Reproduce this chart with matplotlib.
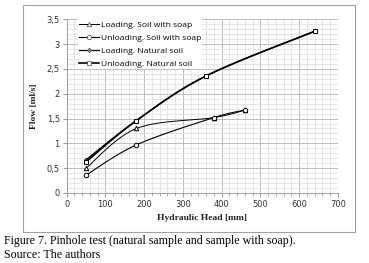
import numpy as np
import matplotlib.pyplot as plt
from matplotlib.patches import Rectangle
from matplotlib.ticker import MultipleLocator, FuncFormatter

# data
head_soap_load = [50, 180, 380, 460]
flow_soap_load = [0.50, 1.30, 1.52, 1.67]
head_soap_unload = [460, 380, 180, 50]
flow_soap_unload = [1.67, 1.52, 0.97, 0.36]
head_nat_load = [50, 180, 360, 640]
flow_nat_load = [0.67, 1.46, 2.36, 3.26]
head_nat_unload = [640, 360, 180, 50]
flow_nat_unload = [3.26, 2.36, 1.46, 0.63]

labels = ["Loading. Soil with soap", "Unloading. Soil with soap",
          "Loading. Natural soil", "Unloading. Natural soil"]

XMAX, YMAX = 700, 3.5


def smooth(x, y, n=25):
    # catmull-rom style curve, like excel smoothed lines (drawing only)
    sx, sy = 271.0 / XMAX, 174.0 / YMAX
    p = np.column_stack([np.asarray(x, float) * sx, np.asarray(y, float) * sy])
    p = np.vstack([p[0], p, p[-1]])
    out = []
    for i in range(1, len(p) - 2):
        p0, p1, p2, p3 = p[i - 1], p[i], p[i + 1], p[i + 2]
        t = np.linspace(0, 1, n)[:, None]
        c = 0.5 * ((2 * p1) + (-p0 + p2) * t + (2 * p0 - 5 * p1 + 4 * p2 - p3) * t ** 2
                   + (-p0 + 3 * p1 - 3 * p2 + p3) * t ** 3)
        out.append(c if i == 1 else c[1:])
    c = np.vstack(out)
    return c[:, 0] / sx, c[:, 1] / sy


fig = plt.figure(figsize=(3.69, 2.63), dpi=100)
fig.patch.set_facecolor("white")
# chart frame
fig.patches.append(Rectangle((23 / 369, 1 - 232 / 263), 332 / 369, 227 / 263,
                             transform=fig.transFigure, fill=False,
                             edgecolor="#a0a0a0", lw=0.8))

ax = fig.add_axes([66.7 / 369, 1 - 193 / 263, 271.3 / 369, 173.7 / 263])
ax.set_xlim(0, XMAX)
ax.set_ylim(0, YMAX)
ax.xaxis.set_major_locator(MultipleLocator(100))
ax.xaxis.set_minor_locator(MultipleLocator(20))
ax.yaxis.set_major_locator(MultipleLocator(0.5))
ax.yaxis.set_minor_locator(MultipleLocator(0.1))
ax.yaxis.set_major_formatter(FuncFormatter(lambda v, p: ("%g" % v).replace(".", ",")))
ax.grid(which="major", color="#bdbdbd", lw=0.7)
ax.grid(which="minor", color="#dcdcdc", lw=0.5)
ax.set_axisbelow(True)
for s in ["top", "right"]:
    ax.spines[s].set_visible(False)
ax.spines["left"].set_color("#a0a0a0")
ax.spines["bottom"].set_color("#a0a0a0")
ax.spines["left"].set_linewidth(0.7)
ax.spines["bottom"].set_linewidth(0.7)
ax.tick_params(which="major", length=3, color="#a0a0a0", labelsize=6, labelcolor="#333333", pad=2)
ax.tick_params(axis="x", which="minor", length=2, color="#a0a0a0")
ax.tick_params(axis="y", which="minor", length=0)

series = [
    (head_soap_load, flow_soap_load, "^", 0.7, "white", 3.2),
    (head_soap_unload, flow_soap_unload, "o", 0.8, "white", 3.2),
    (head_nat_load, flow_nat_load, "D", 0.9, "#888888", 2.2),
    (head_nat_unload, flow_nat_unload, "s", 1.2, "white", 3.0),
]
handles = []
for (x, y, m, lw, fc, ms), lab in zip(series, labels):
    xs, ys = smooth(x, y)
    ax.plot(xs, ys, color="black", lw=lw)
    ax.plot(x, y, ls="none", marker=m, ms=ms, mfc=fc, mec="black", mew=0.7)
    h, = ax.plot([], [], color="black", lw=lw, marker=m, ms=ms,
                 mfc=fc, mec="#444444", mew=0.5)
    handles.append(h)

leg = ax.legend(handles, labels, loc="upper left", bbox_to_anchor=(0.04, 1.0),
                prop={"family": "Open Sans", "size": 6.1}, frameon=True,
                handlelength=2.4, handletextpad=0.2, labelspacing=0.62,
                borderpad=0.15, borderaxespad=0.0, fancybox=False)
leg.get_frame().set_facecolor("white")
leg.get_frame().set_edgecolor("none")
leg.get_frame().set_alpha(1)

ax.set_xlabel("Hydraulic Head [mm]", family="Liberation Serif", fontweight="bold",
              fontsize=6.8, color="#222222", labelpad=4)
ax.set_ylabel("Flow [ml/s]", family="Liberation Serif", fontweight="bold",
              fontsize=6.8, color="#222222", labelpad=6)

fig.text(4 / 369, 1 - 241 / 263, "Figure 7. Pinhole test (natural sample and sample with soap).",
         family="Liberation Serif", fontsize=8.6, va="center", ha="left")
fig.text(4 / 369, 1 - 255 / 263, "Source: The authors",
         family="Liberation Serif", fontsize=8.6, va="center", ha="left")

fig.savefig("out.png", dpi=100, facecolor="white")
